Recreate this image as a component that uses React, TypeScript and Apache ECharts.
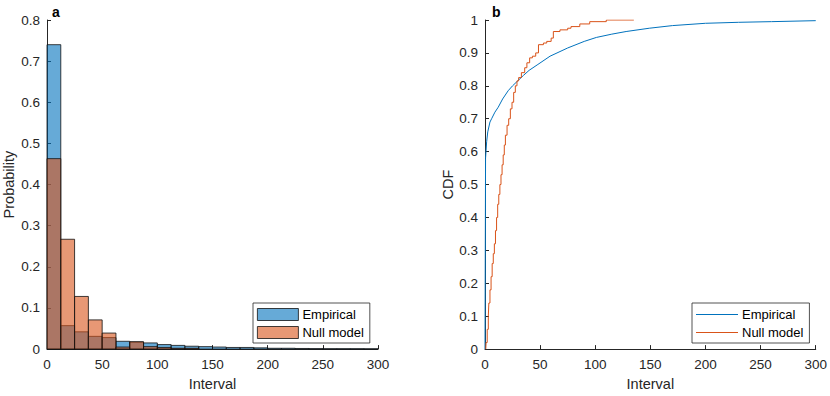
import React, { useEffect, useRef } from "react";
import * as echarts from "echarts";

// Histogram (panel a)
const binWidth = 12.5;
const empiricalProb = [0.74, 0.057, 0.042, 0.031, 0.028, 0.019, 0.017, 0.015, 0.011, 0.009, 0.007, 0.006, 0.005, 0.004, 0.004, 0.003, 0.002, 0.002, 0.0015, 0.0012, 0.001, 0.001, 0.001, 0.0008];
const nullProb = [0.463, 0.267, 0.128, 0.071, 0.039, 0.005, 0.018, 0.006, 0.004, 0.002, 0.002];

// CDF (panel b)
const empX = [0, 0.5, 0.5, 1.5, 2.5, 4.5, 6, 9, 12, 16, 21, 25, 30, 35, 40, 48, 59, 75, 90, 101, 115, 128, 149, 170, 200, 230, 260, 300];
const empY = [0, 0, 0.58, 0.63, 0.66, 0.69, 0.70, 0.72, 0.735, 0.76, 0.785, 0.80, 0.816, 0.832, 0.847, 0.865, 0.89, 0.915, 0.935, 0.947, 0.957, 0.965, 0.975, 0.983, 0.99, 0.993, 0.995, 0.998];
const nullX = [0.7, 1, 2, 3, 3.5, 4.5, 5.5, 6.5, 7.5, 8.5, 9.5, 10.5, 11.5, 12.5, 13.5, 14.5, 15.5, 16.5, 17.5, 18.5, 20, 21.5, 23, 24.5, 26, 27.5, 29, 30.5, 33, 36, 38, 40.5, 43, 46, 48.5, 53, 56, 60, 62, 68, 75, 78, 86, 95, 110, 135];
const nullY = [0, 0.02, 0.06, 0.10, 0.14, 0.18, 0.22, 0.26, 0.29, 0.32, 0.36, 0.40, 0.44, 0.47, 0.50, 0.53, 0.56, 0.59, 0.62, 0.65, 0.68, 0.70, 0.73, 0.75, 0.78, 0.80, 0.815, 0.825, 0.84, 0.855, 0.87, 0.885, 0.89, 0.90, 0.925, 0.93, 0.935, 0.945, 0.965, 0.97, 0.975, 0.98, 0.988, 0.995, 1.0, 1.0];

const xTicks = [0, 50, 100, 150, 200, 250, 300];

const AX = "#262626";
const FONT = "Liberation Sans, Arial, Helvetica, sans-serif";
const BLUE = "#0072BD";
const ORANGE = "#D95319";

function histData(vals: number[]) {
  return vals.map((v, i) => [i * binWidth, (i + 1) * binWidth, v]);
}

function makeRender(fill: string) {
  return (params: any, api: any) => {
    const p0 = api.coord([api.value(0), api.value(2)]);
    const p1 = api.coord([api.value(1), 0]);
    return {
      type: "rect",
      shape: { x: p0[0], y: p0[1], width: p1[0] - p0[0], height: p1[1] - p0[1] },
      style: { fill, stroke: "#111", lineWidth: 0.8 },
    };
  };
}

function xAxisCfg(gridIndex: number) {
  return {
    type: "value",
    gridIndex,
    min: 0,
    max: 300,
    interval: 50,
    name: "Interval",
    nameLocation: "middle",
    nameGap: 24,
    nameTextStyle: { color: AX, fontSize: 14.5, fontFamily: FONT },
    axisLine: { show: true, lineStyle: { color: AX, width: 1 } },
    axisTick: { show: true, inside: true, length: 4, lineStyle: { color: AX } },
    axisLabel: { color: AX, fontSize: 13.5, fontFamily: FONT, margin: 8, formatter: (v: number) => (xTicks.includes(v) ? String(v) : "") },
    splitLine: { show: false },
  };
}

function yAxisCfg(gridIndex: number, max: number, name: string, gap: number) {
  return {
    type: "value",
    gridIndex,
    min: 0,
    max,
    interval: 0.1,
    name,
    nameLocation: "middle",
    nameGap: gap,
    nameTextStyle: { color: AX, fontSize: 14.5, fontFamily: FONT },
    axisLine: { show: true, lineStyle: { color: AX, width: 1 } },
    axisTick: { show: true, inside: true, length: 4, lineStyle: { color: AX } },
    axisLabel: { color: AX, fontSize: 13.5, fontFamily: FONT, margin: 7, formatter: (v: number) => String(Math.round(v * 10) / 10) },
    splitLine: { show: false },
  };
}

export default function App() {
  const ref = useRef<HTMLDivElement>(null);
  useEffect(() => {
    if (!ref.current) return;
    const chart = echarts.init(ref.current, undefined, { renderer: "svg" });
    const blueFill = "rgba(0,114,189,0.6)";
    const orangeFill = "rgba(217,83,25,0.6)";
    chart.setOption({
      animation: false,
      backgroundColor: "#fff",
      title: [
        { text: "a", left: 47, top: 0, textStyle: { fontSize: 14, fontWeight: "bold", color: "#000", fontFamily: FONT } },
        { text: "b", left: 487, top: 0, textStyle: { fontSize: 14, fontWeight: "bold", color: "#000", fontFamily: FONT } },
      ],
      grid: [
        { left: 45, right: 452, top: 20, bottom: 42 },
        { left: 485, right: 12, top: 20, bottom: 42 },
      ],
      xAxis: [xAxisCfg(0), xAxisCfg(1)],
      yAxis: [yAxisCfg(0, 0.8, "Probability", 31), yAxisCfg(1, 1, "CDF", 28)],
      legend: [
        {
          orient: "vertical",
          left: 253,
          top: 303,
          padding: [5, 6, 4, 4],
          itemGap: 5,
          itemWidth: 41,
          itemHeight: 12,
          borderColor: AX,
          borderWidth: 0.8,
          backgroundColor: "#fff",
          borderRadius: 0,
          textStyle: { color: "#000", fontSize: 13, fontFamily: FONT, padding: [0, 0, 0, -1] },
          data: [
            { name: "Empirical", icon: "rect", itemStyle: { color: blueFill, borderColor: "#111", borderWidth: 0.8 } },
            { name: "Null model", icon: "rect", itemStyle: { color: orangeFill, borderColor: "#111", borderWidth: 0.8 } },
          ],
        },
        {
          orient: "vertical",
          left: 692,
          top: 303,
          padding: [5, 6, 4, 4],
          itemGap: 5,
          itemWidth: 42,
          itemHeight: 12,
          borderColor: AX,
          borderWidth: 0.8,
          backgroundColor: "#fff",
          borderRadius: 0,
          formatter: (n: string) => n.trim(),
          textStyle: { color: "#000", fontSize: 13, fontFamily: FONT, padding: [0, 0, 0, -1] },
          data: [
            { name: "Empirical ", icon: "path://M0,0 L42,0 L42,1.2 L0,1.2 Z", itemStyle: { color: BLUE, borderWidth: 0 } },
            { name: "Null model ", icon: "path://M0,0 L42,0 L42,1.2 L0,1.2 Z", itemStyle: { color: ORANGE, borderWidth: 0 } },
          ],
        },
      ],
      series: [
        {
          name: "Empirical",
          type: "custom",
          xAxisIndex: 0,
          yAxisIndex: 0,
          renderItem: makeRender(blueFill),
          itemStyle: { color: blueFill },
          encode: { x: [0, 1], y: 2 },
          data: histData(empiricalProb),
        },
        {
          name: "Null model",
          type: "custom",
          xAxisIndex: 0,
          yAxisIndex: 0,
          renderItem: makeRender(orangeFill),
          itemStyle: { color: orangeFill },
          encode: { x: [0, 1], y: 2 },
          data: histData(nullProb),
        },
        {
          name: "Empirical ",
          type: "line",
          xAxisIndex: 1,
          yAxisIndex: 1,
          symbol: "none",
          showSymbol: false,
          color: BLUE,
          lineStyle: { color: BLUE, width: 1 },
          data: empX.map((x, i) => [x, empY[i]]),
        },
        {
          name: "Null model ",
          type: "line",
          xAxisIndex: 1,
          yAxisIndex: 1,
          symbol: "none",
          showSymbol: false,
          step: "end",
          color: ORANGE,
          lineStyle: { color: ORANGE, width: 1 },
          data: nullX.map((x, i) => [x, nullY[i]]),
        },
      ],
    });
    return () => chart.dispose();
  }, []);
  return <div ref={ref} style={{ position: "fixed", left: 0, top: 0, width: 830, height: 396 }} />;
}
